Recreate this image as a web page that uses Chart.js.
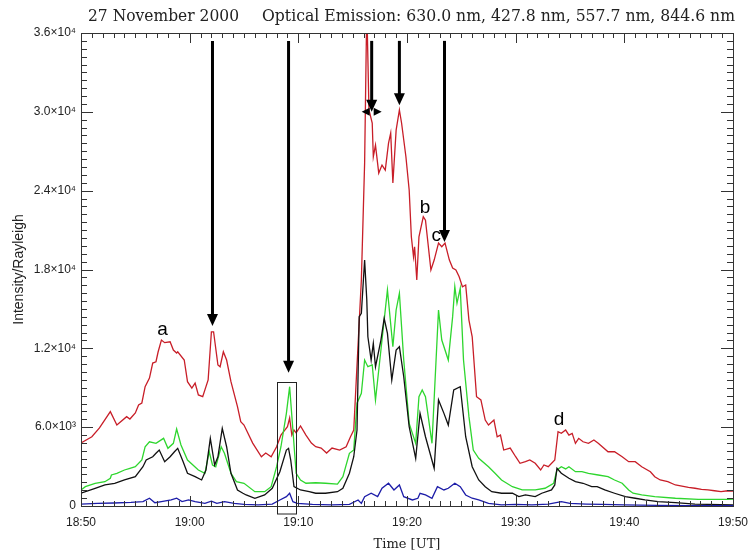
<!DOCTYPE html>
<html>
<head>
<meta charset="utf-8">
<script src="https://cdn.jsdelivr.net/npm/chart.js@4.4.1/dist/chart.umd.min.js"></script>
<style>
    html, body { margin: 0; padding: 0; background: #fff; }
    canvas { display: block; }
</style>
</head>
<body>
<canvas id="emissionChart" width="749" height="555"></canvas>
<script>
// Подписи осей (время в минутах от 18:50 UT)
const xTickLabels = ['18:50', '19:00', '19:10', '19:20', '19:30', '19:40', '19:50'];
const yTickLabels = ['0', '6.0×10³', '1.2×10⁴', '1.8×10⁴', '2.4×10⁴', '3.0×10⁴', '3.6×10⁴'];

// 630.0 nm — [минуты, интенсивность]
const red630 = [
    [0, 4800], [1.0, 5270], [1.7, 5940], [2.7, 7180], [3.3, 6160], [4.2, 6800], [4.5, 6620], [5.0, 7080],
    [5.3, 7690], [5.6, 7840], [5.9, 9080], [6.3, 9740], [6.6, 10880], [6.9, 10980], [7.1, 11740], [7.4, 12630],
    [7.7, 12430], [8.2, 12500], [8.5, 11870], [8.8, 11640], [8.9, 11740], [9.5, 11110], [9.8, 9460], [10.2, 8980],
    [10.5, 9360], [10.8, 8450], [11.2, 8320], [11.7, 9590], [12.0, 13260], [12.2, 13260], [12.6, 10730], [12.8, 10600],
    [13.1, 11740], [13.4, 11110], [13.8, 9460], [14.4, 7560], [14.7, 6420], [15.0, 6160], [15.8, 4790], [16.6, 3750],
    [17.0, 4030], [17.5, 3750], [18.0, 4510], [18.4, 5400], [19.0, 6030], [19.2, 6700], [19.4, 5400], [19.6, 5780],
    [19.8, 5560], [20.2, 6090], [20.7, 5400], [21.2, 4790], [21.6, 4510], [22.1, 4410], [22.6, 4030], [23.1, 4410],
    [23.8, 4260], [24.4, 4510], [24.8, 5270], [25.1, 5780], [25.3, 9080], [25.8, 17200], [26.1, 26100], [26.3, 38000],
    [26.5, 30140], [26.8, 29150], [26.9, 26580], [27.1, 27470], [27.4, 25340], [27.7, 25950], [28.0, 25570], [28.3, 27620],
    [28.5, 28390], [28.7, 24580], [29.0, 28610], [29.3, 30140], [29.5, 29150], [29.9, 26580], [30.2, 24050], [30.4, 20490],
    [30.6, 18970], [30.7, 19730], [30.9, 17200], [31.1, 20490], [31.5, 22020], [31.7, 21760], [32.2, 17960], [32.5, 18720],
    [32.9, 20010], [33.2, 19730], [33.5, 20010], [33.9, 18720], [34.2, 18110], [34.5, 17960], [34.8, 17450], [35.1, 16690],
    [35.4, 16820], [35.7, 14150], [36.0, 12880], [36.4, 8320], [36.8, 8070], [37.2, 6540], [37.5, 6160], [38.0, 6540],
    [38.3, 5270], [38.6, 5400], [38.9, 4260], [39.5, 4410], [40.0, 3750], [40.4, 3250], [40.9, 3370], [41.3, 3500],
    [41.8, 3250], [42.3, 2740], [42.6, 3120], [43.0, 2990], [43.6, 3500], [43.9, 5650], [44.2, 5530], [44.6, 5780],
    [44.9, 5400], [45.2, 5530], [45.5, 4770], [45.8, 5150], [46.2, 4890], [46.7, 4770], [47.2, 5020], [47.6, 4770],
    [48.5, 4130], [49.1, 4130], [49.8, 3750], [50.4, 3370], [51.0, 3370], [51.6, 2990], [52.4, 2610], [52.8, 2230],
    [53.3, 1980], [54.0, 1850], [54.7, 1600], [55.3, 1520], [55.9, 1420], [56.5, 1350], [57.1, 1270], [57.7, 1220],
    [58.3, 1160], [58.9, 1090], [59.5, 1160], [60, 1140]
];

// 557.7 nm
const green557 = [
    [0, 1220], [0.4, 1470], [1.3, 1730], [2.2, 1850], [2.7, 2110], [2.8, 2360], [3.3, 2490], [4.0, 2740],
    [4.5, 2870], [5.0, 2990], [5.6, 3500], [5.9, 4510], [6.3, 4890], [6.9, 4770], [7.6, 5150], [8.0, 4390],
    [8.5, 4770], [8.8, 5860], [9.2, 4640], [9.8, 3500], [10.8, 2740], [11.4, 2490], [11.8, 4130], [12.1, 3120],
    [12.4, 2990], [12.9, 4510], [13.2, 4010], [13.8, 2490], [14.3, 1850], [15.0, 1730], [16.0, 1090], [16.9, 1090],
    [17.5, 1470], [18.0, 2990], [18.4, 4510], [18.9, 7050], [19.2, 9080], [19.5, 5780], [19.8, 2490], [20.2, 1980],
    [20.7, 1730], [21.6, 1770], [22.5, 1730], [23.6, 1670], [24.1, 2230], [24.7, 4010], [25.1, 4260], [25.4, 7820],
    [25.8, 8580], [26.1, 11110], [26.4, 10600], [26.8, 10730], [27.1, 8070], [27.6, 11870], [28.2, 16440], [28.7, 12120],
    [29.0, 14920], [29.3, 16190], [29.7, 11110], [30.2, 6290], [30.8, 4770], [31.1, 8320], [31.4, 8830], [31.7, 8320],
    [32.3, 4770], [32.9, 14920], [33.2, 12630], [33.8, 11110], [34.2, 14410], [34.4, 16690], [34.6, 15430], [34.9, 16570],
    [35.2, 11110], [35.7, 6800], [36.1, 4260], [36.6, 3630], [37.5, 2990], [38.1, 2490], [38.7, 1980], [39.7, 1470],
    [40.6, 1220], [41.8, 1220], [42.7, 1350], [43.5, 1730], [43.8, 2740], [44.2, 2990], [44.6, 2820], [44.9, 2990],
    [45.5, 2610], [46.1, 2610], [46.7, 2490], [47.6, 2360], [48.5, 2230], [49.1, 1980], [49.8, 1730], [50.4, 1220],
    [50.8, 970], [51.6, 840], [52.8, 710], [54.7, 590], [56.8, 510], [59.5, 510], [60, 530]
];

// 844.6 nm
const black844 = [
    [0, 970], [1.3, 1350], [2.2, 1600], [3.1, 1730], [4.0, 1980], [5.0, 2230], [5.7, 2990], [6.0, 3500],
    [6.6, 3750], [6.9, 4010], [7.2, 4260], [7.7, 3370], [8.2, 3750], [8.6, 4130], [8.9, 4390], [9.4, 3370],
    [9.8, 2490], [10.5, 2230], [11.1, 1980], [11.5, 2740], [11.9, 5150], [12.3, 3120], [12.6, 3750], [13.0, 5910],
    [13.4, 4510], [13.8, 2490], [14.4, 1220], [14.9, 970], [15.2, 840], [16.0, 590], [16.9, 840], [17.6, 1350],
    [18.3, 2610], [18.9, 4260], [19.1, 4390], [19.3, 3500], [19.6, 1470], [20.2, 1220], [21.0, 1090], [21.6, 970],
    [22.5, 970], [23.6, 1090], [24.1, 1350], [24.7, 2490], [25.1, 3750], [25.4, 5780], [25.6, 14410], [25.8, 14660],
    [26.1, 18720], [26.3, 15680], [26.4, 12880], [26.7, 11110], [26.9, 12380], [27.1, 10600], [27.6, 12630], [27.9, 14280],
    [28.2, 13140], [28.6, 9590], [29.0, 11870], [29.3, 12120], [29.7, 9840], [30.2, 6030], [30.8, 3630], [31.2, 7050],
    [31.7, 5270], [32.5, 2870], [32.9, 8070], [33.4, 7050], [33.8, 6160], [34.3, 8830], [34.9, 9080], [35.4, 5270],
    [36.0, 2990], [36.6, 1980], [37.2, 1470], [37.8, 1090], [38.7, 970], [39.7, 970], [40.3, 710], [40.9, 840],
    [41.8, 710], [42.4, 970], [43.3, 1220], [43.6, 1600], [43.8, 2870], [44.2, 2490], [44.9, 2110], [45.5, 1850],
    [46.2, 1730], [47.0, 1470], [47.5, 1470], [48.2, 1220], [49.1, 970], [50.1, 710], [51.0, 590], [51.9, 460],
    [53.1, 330], [54.7, 250], [56.5, 150], [60, 80]
];

// 427.8 nm
const blue427 = [
    [0, 150], [1.5, 200], [3.0, 230], [4.6, 270], [5.7, 330], [6.3, 590], [6.8, 250], [7.4, 330],
    [8.3, 460], [8.8, 590], [9.3, 330], [9.9, 460], [10.5, 330], [11.4, 200], [12.0, 370], [12.5, 200],
    [13.2, 330], [14.1, 200], [15.0, 120], [16.3, 80], [17.6, 150], [18.3, 460], [18.9, 710], [19.2, 970],
    [19.5, 330], [19.9, 200], [21.3, 120], [23.1, 80], [24.7, 120], [25.5, 460], [25.8, 200], [26.1, 710],
    [26.7, 970], [27.3, 710], [27.7, 1350], [28.3, 1730], [28.8, 1220], [29.3, 1600], [29.7, 710], [30.5, 460],
    [31.0, 590], [31.2, 970], [31.7, 840], [32.3, 590], [32.8, 1470], [33.4, 1220], [33.8, 1350], [34.4, 1730],
    [34.9, 1470], [35.4, 840], [36.0, 590], [36.6, 460], [37.5, 200], [38.7, 80], [40.0, 120], [41.5, 80],
    [43.0, 150], [44.2, 330], [45.0, 200], [46.5, 150], [48.0, 120], [50.0, 80], [53.0, 50], [56.0, 30], [60, 20]
];

// Стрелки, рамка и буквы на графике
const arrows = [
    { x: 12.1, top: 35400, tip: 13700 },
    { x: 19.1, top: 35400, tip: 10150 },
    { x: 26.75, top: 35400, tip: 30000, cross: true },
    { x: 29.3, top: 35400, tip: 30500 },
    { x: 33.45, top: 35400, tip: 20100 }
];
const markBox = { x0: 18.05, x1: 19.82, top: 9460 };
const letters = [
    { text: 'a', x: 7.5, y: 13400 },
    { text: 'b', x: 31.65, y: 22700 },
    { text: 'c', x: 32.7, y: 20550 },
    { text: 'd', x: 44.0, y: 6550 }
];

const toPoints = arr => arr.map(p => ({ x: p[0], y: p[1] }));

// Убираем запасы под крайние подписи, чтобы область графика стояла точно
const fixPadding = s => {
    s.paddingLeft = 0;
    s.paddingRight = 0;
    s.paddingTop = 0;
    s.paddingBottom = 0;
};

const decorPlugin = {
    id: 'decor',
    afterDatasetsDraw(chart) {
        const { ctx, chartArea: a, scales: { x, y } } = chart;
        ctx.save();

        // Рамка и засечки внутрь
        ctx.strokeStyle = '#333';
        ctx.lineWidth = 1;
        ctx.strokeRect(a.left + 0.5, a.top + 0.5, a.right - a.left, a.bottom - a.top);
        ctx.beginPath();
        for (let m = 0; m <= 60; m++) {
            const px = Math.round(x.getPixelForValue(m)) + 0.5;
            const len = m % 10 === 0 ? 10 : 5;
            ctx.moveTo(px, a.bottom); ctx.lineTo(px, a.bottom - len);
            ctx.moveTo(px, a.top); ctx.lineTo(px, a.top + len);
        }
        for (let v = 0; v <= 36000; v += 600) {
            const py = Math.round(y.getPixelForValue(v)) + 0.5;
            const len = v % 6000 === 0 ? 12 : 6;
            ctx.moveTo(a.left, py); ctx.lineTo(a.left + len, py);
            ctx.moveTo(a.right, py); ctx.lineTo(a.right - len, py);
        }
        ctx.stroke();

        // Рамка вокруг пика 19:09
        const bx0 = Math.round(x.getPixelForValue(markBox.x0)) + 0.5;
        const bx1 = Math.round(x.getPixelForValue(markBox.x1)) + 0.5;
        const by0 = Math.round(y.getPixelForValue(markBox.top)) + 0.5;
        ctx.strokeStyle = '#222';
        ctx.strokeRect(bx0, by0, bx1 - bx0, a.bottom + 8 - by0);

        // Стрелки
        ctx.fillStyle = '#000';
        ctx.strokeStyle = '#000';
        arrows.forEach(arr => {
            const px = x.getPixelForValue(arr.x);
            const py0 = y.getPixelForValue(arr.top);
            const py1 = y.getPixelForValue(arr.tip);
            ctx.lineWidth = 3;
            ctx.beginPath();
            ctx.moveTo(px, py0);
            ctx.lineTo(px, py1 - 10);
            ctx.stroke();
            ctx.beginPath();
            ctx.moveTo(px - 5.5, py1 - 12);
            ctx.lineTo(px + 5.5, py1 - 12);
            ctx.lineTo(px, py1);
            ctx.closePath();
            ctx.fill();
            if (arr.cross) {
                ctx.beginPath();
                ctx.moveTo(px - 10, py1);
                ctx.lineTo(px - 2, py1 - 4);
                ctx.lineTo(px - 2, py1 + 4);
                ctx.closePath();
                ctx.moveTo(px + 10, py1);
                ctx.lineTo(px + 2, py1 - 4);
                ctx.lineTo(px + 2, py1 + 4);
                ctx.closePath();
                ctx.fill();
            }
        });

        // Буквы
        ctx.font = '19px "Liberation Sans", Arial, sans-serif';
        ctx.textAlign = 'center';
        ctx.textBaseline = 'middle';
        letters.forEach(l => {
            ctx.fillText(l.text, x.getPixelForValue(l.x), y.getPixelForValue(l.y));
        });
        ctx.restore();
    },
    afterDraw(chart) {
        const ctx = chart.ctx;
        ctx.save();
        ctx.fillStyle = '#222';
        ctx.font = '17px "DejaVu Serif", serif';
        ctx.textBaseline = 'alphabetic';
        // Заголовок из двух частей, подгоняем по ширине
        const parts = [
            { text: '27 November 2000', x0: 88, x1: 239 },
            { text: 'Optical Emission: 630.0 nm, 427.8 nm, 557.7 nm, 844.6 nm', x0: 262, x1: 735 }
        ];
        parts.forEach(p => {
            const w = ctx.measureText(p.text).width;
            ctx.save();
            ctx.translate(p.x0, 21);
            ctx.scale((p.x1 - p.x0) / w, 1);
            ctx.fillText(p.text, 0, 0);
            ctx.restore();
        });
        ctx.restore();
    }
};

const makeSet = (data, color) => ({
    data: toPoints(data),
    borderColor: color,
    borderWidth: 1.3,
    pointRadius: 0,
    tension: 0,
    fill: false
});

const ctx = document.getElementById('emissionChart').getContext('2d');
new Chart(ctx, {
    type: 'line',
    data: {
        datasets: [
            makeSet(blue427, '#1c1ca8'),
            makeSet(black844, '#111111'),
            makeSet(green557, '#2ed62e'),
            makeSet(red630, '#c81e28')
        ]
    },
    options: {
        responsive: false,
        animation: false,
        devicePixelRatio: 1,
        layout: { padding: { left: 0, top: 33, right: 16, bottom: 0 } },
        plugins: { legend: { display: false }, tooltip: { enabled: false } },
        scales: {
            x: {
                type: 'linear',
                min: 0,
                max: 60,
                afterFit: s => { s.height = 49; fixPadding(s); },
                grid: { display: false, drawTicks: false },
                border: { display: false },
                ticks: {
                    stepSize: 10,
                    padding: 9,
                    maxRotation: 0,
                    color: '#222',
                    font: { family: '"Liberation Sans", Arial, sans-serif', size: 12 },
                    callback: v => xTickLabels[Math.round(v / 10)]
                },
                title: {
                    display: true,
                    text: 'Time [UT]',
                    color: '#222',
                    font: { family: '"DejaVu Serif", serif', size: 13 },
                    padding: { top: 0, bottom: 3 }
                }
            },
            y: {
                min: 0,
                max: 36000,
                afterFit: s => { s.width = 81; fixPadding(s); },
                grid: { display: false, drawTicks: false },
                border: { display: false },
                ticks: {
                    stepSize: 6000,
                    padding: 5,
                    color: '#222',
                    font: { family: '"Liberation Sans", Arial, sans-serif', size: 12 },
                    callback: v => yTickLabels[Math.round(v / 6000)]
                },
                title: {
                    display: true,
                    text: 'Intensity/Rayleigh',
                    color: '#222',
                    font: { family: '"Liberation Sans", Arial, sans-serif', size: 14 },
                    padding: { top: 11, bottom: 0 }
                }
            }
        }
    },
    plugins: [decorPlugin]
});
</script>
</body>
</html>
